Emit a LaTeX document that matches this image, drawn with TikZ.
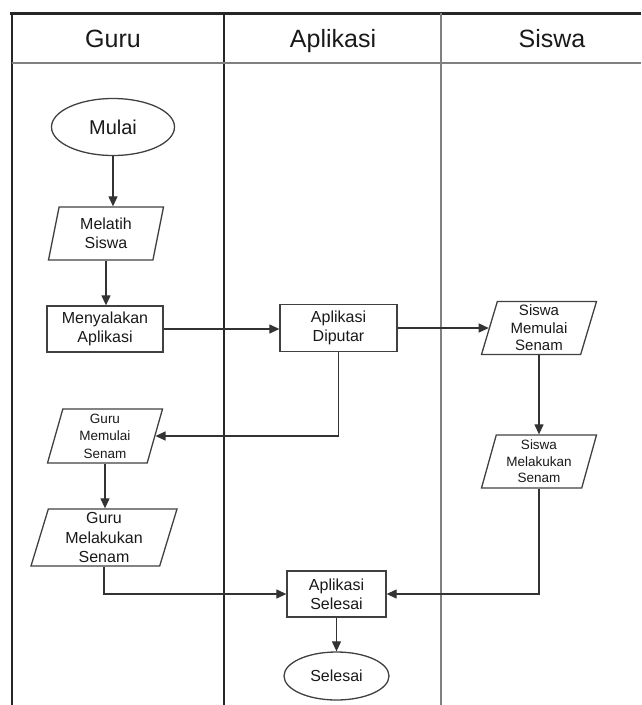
\documentclass[tikz,border=0pt]{standalone}
\usepackage{fontspec}
\setmainfont{Liberation Sans}
\usetikzlibrary{shapes.geometric}
\usetikzlibrary{arrows.meta}

\begin{document}
\begin{tikzpicture}[x=1pt, y=-1pt,
		every node/.style={text=black!90, align=center},
		lane/.style={line width=1.8pt, draw=black!85},
		thinlane/.style={line width=1.2pt, draw=black!50},
		head/.style={anchor=base, font=\fontsize{25}{30}\selectfont},
		proc/.style={draw=black!75, line width=1.3pt, rectangle, inner sep=0pt,
			font=\fontsize{16}{19}\selectfont},
		io/.style={draw=black!75, line width=1.3pt, trapezium,
			trapezium left angle=71, trapezium right angle=109,
			trapezium stretches body, inner sep=0pt,
			minimum width=115pt, minimum height=53pt,
			font=\fontsize{15}{17.5}\selectfont},
		term/.style={draw=black!75, line width=1.3pt, ellipse, inner sep=0pt},
		flow/.style={draw=black!80, line width=1.2pt, -{Triangle[length=10pt,width=9pt]}}]
		\useasboundingbox (0,0) rectangle (641,705);

		% Lanes
		\draw[lane, line width=3pt] (10,13) -- (641,13);
		\draw[lane] (12,13) -- (12,705);
		\draw[lane] (224,13) -- (224,705);
		\draw[thinlane] (441,13) -- (441,705);
		\draw[thinlane] (12,63) -- (641,63);
		\node[head] (hguru) at (113,47) {Guru};
		\node[head] (haplikasi) at (333,47) {Aplikasi};
		\node[head] (hsiswa) at (552,47) {Siswa};

		% Guru
		\node[term, minimum width=123pt, minimum height=57pt,
			font=\fontsize{20}{24}\selectfont] (mulai) at (113,127) {Mulai};
		\node[io, font=\fontsize{16}{19}\selectfont] (melatih) at (106,233.5) {Melatih\\Siswa};
		\node[proc, minimum width=116pt, minimum height=46pt] (nyala) at (105,329) {Menyalakan\\Aplikasi};
		\node[io, minimum height=54pt, font=\fontsize{13.5}{17.5}\selectfont] (gmulai) at (105,436) {Guru\\Memulai\\Senam};
		\node[io, minimum width=146pt, minimum height=57pt,
			font=\fontsize{16}{19.5}\selectfont] (gmelakukan) at (104,537.5) {Guru\\Melakukan\\Senam};

		% Aplikasi
		\node[proc, minimum width=117pt, minimum height=47pt] (diputar) at (338.5,328) {Aplikasi\\Diputar};
		\node[proc, minimum width=99pt, minimum height=46pt] (aselesai) at (336.5,594) {Aplikasi\\Selesai};
		\node[term, minimum width=105pt, minimum height=48pt,
			font=\fontsize{16}{19}\selectfont] (selesai) at (336.5,676) {Selesai};

		% Siswa
		\node[io] (smulai) at (539,328) {Siswa\\Memulai\\Senam};
		\node[io, font=\fontsize{13.5}{16.5}\selectfont] (smelakukan) at (539,461.5) {Siswa\\Melakukan\\Senam};

		% Flow
		\draw[flow] (mulai.south) -- (mulai.south |- melatih.top side);
		\draw[flow] (melatih.center |- melatih.bottom side) -- (melatih.center |- nyala.north);
		\draw[flow] (nyala.east) -- (nyala.east -| diputar.west);
		\draw[flow] (diputar.east) -- (diputar.east -| smulai.left side);
		\draw[flow] (smulai.center |- smulai.bottom side) -- (smulai.center |- smelakukan.top side);
		\draw[flow] (diputar.south) |- (gmulai.right side);
		\draw[flow] (gmulai.center |- gmulai.bottom side) -- (gmulai.center |- gmelakukan.top side);
		\draw[flow] (gmelakukan.center |- gmelakukan.bottom side) |- (aselesai.west);
		\draw[flow] (smelakukan.center |- smelakukan.bottom side) |- (aselesai.east);
		\draw[flow] (aselesai.south) -- (selesai.north);
	\end{tikzpicture}
\end{document}
